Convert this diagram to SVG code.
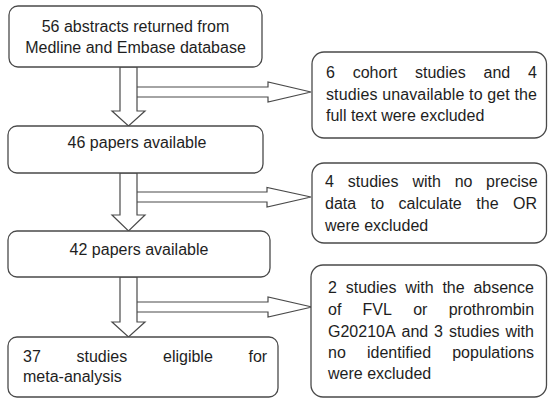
<svg xmlns="http://www.w3.org/2000/svg" width="548" height="400" viewBox="0 0 548 400">
<style>
.box{fill:#fff;stroke:#4a4a4a;stroke-width:1.3}
.arr{fill:#fff;stroke:#4a4a4a;stroke-width:1.2;stroke-linejoin:miter}
text{font-family:"Liberation Sans",Arial,sans-serif;font-size:16px;fill:#1e1e1e}
.c{text-anchor:middle}
</style>
<rect width="548" height="400" fill="#fff"/>
<g id="connectors">
<polygon class="arr" points="130,87 268,87 268,82 311,92 268,102 268,97 130,97"/>
<polygon class="arr" points="120,67 137,67 137,111 145,111 128.5,126 112,111 120,111"/>
<polygon class="arr" points="130,192 267,192 267,187.5 311,197 267,207 267,202 130,202"/>
<polygon class="arr" points="120,173 137,173 137,215 145,215 128.5,231 112,215 120,215"/>
<polygon class="arr" points="130,302 268,302 268,297 312,307 268,317 268,312 130,312"/>
<polygon class="arr" points="120,277 137,277 137,322 145,322 128.5,337 112,322 120,322"/>
</g>
<g id="n1">
<rect class="box" x="9" y="6" width="253" height="61" rx="9"/>
<text class="c" x="135.5" y="32">56 abstracts returned from</text>
<text class="c" x="135.5" y="53">Medline and Embase database</text>
</g>
<g id="n2">
<rect class="box" x="8" y="126" width="255" height="47" rx="9"/>
<text class="c" x="137" y="148">46 papers available</text>
</g>
<g id="n3">
<rect class="box" x="8" y="231" width="262" height="46" rx="9"/>
<text class="c" x="139" y="255">42 papers available</text>
</g>
<g id="n4">
<rect class="box" x="8" y="337" width="270" height="60" rx="9"/>
<text y="362"><tspan x="23">37</tspan><tspan x="76.5">studies</tspan><tspan x="163">eligible</tspan><tspan x="248.5">for</tspan></text>
<text x="23" y="382">meta-analysis</text>
</g>
<g id="r1">
<rect class="box" x="312" y="52" width="234.5" height="86" rx="12"/>
<text y="78"><tspan x="326">6</tspan><tspan x="352.7">cohort</tspan><tspan x="415">studies</tspan><tspan x="483.5">and</tspan><tspan x="528">4</tspan></text>
<text x="326" y="100" textLength="211" lengthAdjust="spacing">studies unavailable to get the</text>
<text x="326" y="121">full text were excluded</text>
</g>
<g id="r2">
<rect class="box" x="312" y="163" width="234.5" height="80" rx="12"/>
<text y="187"><tspan x="325">4</tspan><tspan x="347.8">studies</tspan><tspan x="412.4">with</tspan><tspan x="454.7">no</tspan><tspan x="486">precise</tspan></text>
<text y="209"><tspan x="325">data</tspan><tspan x="370.7">to</tspan><tspan x="398.6">calculate</tspan><tspan x="476.3">the</tspan><tspan x="513.1">OR</tspan></text>
<text x="325" y="231">were excluded</text>
</g>
<g id="r3">
<rect class="box" x="311" y="265" width="235.5" height="132" rx="12"/>
<text y="293"><tspan x="328">2</tspan><tspan x="345.7">studies</tspan><tspan x="405.2">with</tspan><tspan x="442.4">the</tspan><tspan x="473.4">absence</tspan></text>
<text y="315"><tspan x="328">of</tspan><tspan x="362.6">FVL</tspan><tspan x="413.2">or</tspan><tspan x="448.7">prothrombin</tspan></text>
<text y="337"><tspan x="328">G20210A</tspan><tspan x="401.5">and</tspan><tspan x="434.1">3</tspan><tspan x="448.9">studies</tspan><tspan x="505.5">with</tspan></text>
<text y="358"><tspan x="328">no</tspan><tspan x="367">identified</tspan><tspan x="452.2">populations</tspan></text>
<text x="328" y="379">were excluded</text>
</g>
</svg>
